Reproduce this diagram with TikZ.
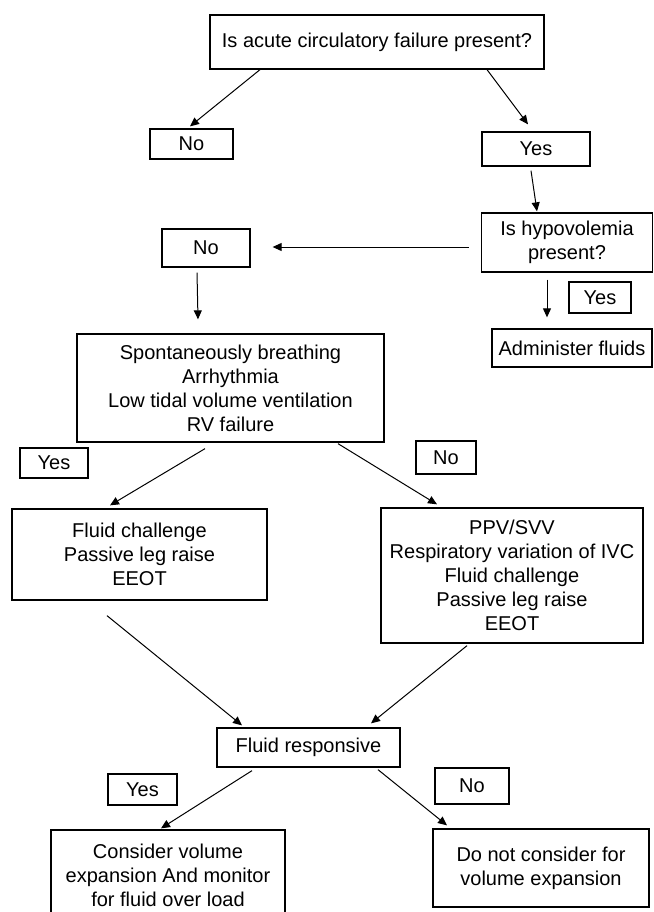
\documentclass[tikz,border=0pt]{standalone}
\usepackage{fontspec}
\setmainfont{Liberation Sans}
\usetikzlibrary{arrows.meta}

\tikzset{
    box/.style={draw, line width=1.3pt, align=center, inner sep=0pt,
        font=\fontsize{20pt}{24pt}\selectfont},
    arr/.style={-{Triangle[length=9pt,width=8pt]}, line width=1pt}
}

\begin{document}
\begin{tikzpicture}[x=1pt,y=-1pt]
    \useasboundingbox (0,0) rectangle (653,912);

    \node[box, minimum width=334pt, minimum height=54pt] (acute) at (377,42) {Is acute circulatory failure present?};
    \node[box, minimum width=83pt, minimum height=30pt] (noA) at (191.5,144) {No};
    \node[box, minimum width=108pt, minimum height=34pt] (yesA) at (536,149) {Yes};
    \node[box, minimum width=171pt, minimum height=59pt] (hypo) at (567,242.5) {Is hypovolemia\\present?};
    \node[box, minimum width=88pt, minimum height=38pt] (noB) at (206,248) {No};
    \node[box, minimum width=62pt, minimum height=31pt] (yesB) at (600,297.5) {Yes};
    \node[box, minimum width=160pt, minimum height=38pt] (fluids) at (572,348) {Administer fluids};
    \node[box, minimum width=307pt, minimum height=108pt] (spont) at (230.5,388) {Spontaneously breathing\\Arrhythmia\\Low tidal volume ventilation\\RV failure};
    \node[box, minimum width=68pt, minimum height=30pt] (yesC) at (54,463) {Yes};
    \node[box, minimum width=60pt, minimum height=33pt] (noC) at (446,457.5) {No};
    \node[box, minimum width=255pt, minimum height=91pt] (challenge) at (139.5,554.5) {Fluid challenge\\Passive leg raise\\EEOT};
    \node[box, minimum width=262pt, minimum height=135pt] (ppv) at (512,575.5) {PPV/SVV\\Respiratory variation of IVC\\Fluid challenge\\Passive leg raise\\EEOT};
    \node[box, minimum width=183pt, minimum height=39pt] (resp) at (308.5,747.5) {Fluid responsive};
    \node[box, minimum width=69pt, minimum height=31pt] (yesD) at (142.5,789.5) {Yes};
    \node[box, minimum width=74pt, minimum height=36pt] (noD) at (472,786) {No};
    \node[box, minimum width=234pt, minimum height=90pt] (expand) at (168,875) {Consider volume\\expansion And monitor\\for fluid over load};
    \node[box, minimum width=216pt, minimum height=78pt] (noexpand) at (541,868) {Do not consider for\\volume expansion};

    \draw[arr] ([xshift=-117pt]acute.south) -- ([xshift=-1.5pt,yshift=2pt]noA.north);
    \draw[arr] ([xshift=110pt]acute.south) -- ([xshift=-8pt,yshift=7pt]yesA.north);
    \draw[arr] ([xshift=-5pt,yshift=-4pt]yesA.south) -- ([xshift=-30pt,yshift=1pt]hypo.north);
    \draw[arr] ([xshift=-12pt,yshift=-4.5pt]hypo.west) -- ([xshift=22pt,yshift=1pt]noB.east);
    \draw[arr] ([xshift=-9pt,yshift=-5pt]noB.south) -- ([xshift=-32.5pt,yshift=14pt]spont.north);
    \draw[arr] ([xshift=-20pt,yshift=-7pt]hypo.south) -- ([xshift=-25pt,yshift=11pt]fluids.north);
    \draw[arr] ([xshift=-25.5pt,yshift=-6pt]spont.south) -- ([xshift=-29.5pt,yshift=3pt]challenge.north);
    \draw[arr] ([xshift=107.5pt,yshift=-1pt]spont.south) -- ([xshift=-75pt,yshift=3pt]ppv.north);
    \draw[arr] ([xshift=-32.5pt,yshift=-15pt]challenge.south) -- ([xshift=-66.5pt,yshift=2pt]resp.north);
    \draw[arr] ([xshift=-45pt,yshift=-2pt]ppv.south) -- ([xshift=62.5pt,yshift=4pt]resp.north);
    \draw[arr] ([xshift=-56.5pt,yshift=-3pt]resp.south) -- ([xshift=-7pt,yshift=1pt]expand.north);
    \draw[arr] ([xshift=69.5pt,yshift=-2pt]resp.south) -- ([xshift=-94pt,yshift=3pt]noexpand.north);
\end{tikzpicture}
\end{document}
